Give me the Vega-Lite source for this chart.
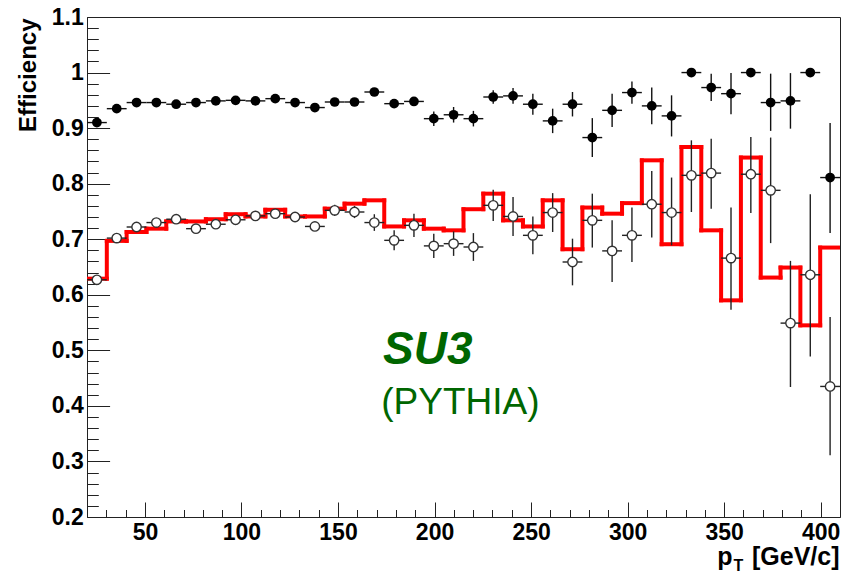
{
  "$schema": "https://vega.github.io/schema/vega-lite/v6.json",
  "width": 753,
  "height": 500,
  "autosize": {"type": "none"},
  "padding": {"left": 87, "top": 17, "right": 1, "bottom": 55},
  "background": "white",
  "config": {
    "view": {"stroke": "#222", "strokeWidth": 1},
    "axis": {
      "grid": false,
      "domain": false,
      "labelFont": "Liberation Sans",
      "labelFontWeight": "bold",
      "labelFontSize": 23,
      "labelColor": "black",
      "labelOverlap": false,
      "labelFlush": false,
      "titleFont": "Liberation Sans",
      "titleFontWeight": "bold",
      "titleFontSize": 24,
      "titleColor": "black",
      "tickColor": "#222",
      "tickWidth": 1
    }
  },
  "datasets": {
    "bins": [
      {"c": 25.13, "lo": 20, "hi": 30.26, "mc": 0.629, "o": 0.627, "olo": 0.621, "ohi": 0.633, "f": 0.910, "flo": 0.903, "fhi": 0.917},
      {"c": 35.39, "lo": 30.26, "hi": 40.53, "mc": 0.697, "o": 0.702, "olo": 0.696, "ohi": 0.708, "f": 0.935, "flo": 0.929, "fhi": 0.941},
      {"c": 45.66, "lo": 40.53, "hi": 50.79, "mc": 0.713, "o": 0.722, "olo": 0.716, "ohi": 0.728, "f": 0.946, "flo": 0.941, "fhi": 0.951},
      {"c": 55.92, "lo": 50.79, "hi": 61.05, "mc": 0.719, "o": 0.730, "olo": 0.724, "ohi": 0.736, "f": 0.946, "flo": 0.941, "fhi": 0.951},
      {"c": 66.18, "lo": 61.05, "hi": 71.32, "mc": 0.732, "o": 0.736, "olo": 0.730, "ohi": 0.742, "f": 0.943, "flo": 0.938, "fhi": 0.948},
      {"c": 76.45, "lo": 71.32, "hi": 81.58, "mc": 0.732, "o": 0.719, "olo": 0.713, "ohi": 0.725, "f": 0.946, "flo": 0.941, "fhi": 0.951},
      {"c": 86.71, "lo": 81.58, "hi": 91.84, "mc": 0.736, "o": 0.727, "olo": 0.720, "ohi": 0.734, "f": 0.949, "flo": 0.944, "fhi": 0.954},
      {"c": 96.97, "lo": 91.84, "hi": 102.11, "mc": 0.745, "o": 0.735, "olo": 0.728, "ohi": 0.742, "f": 0.950, "flo": 0.945, "fhi": 0.955},
      {"c": 107.24, "lo": 102.11, "hi": 112.37, "mc": 0.741, "o": 0.742, "olo": 0.735, "ohi": 0.749, "f": 0.949, "flo": 0.944, "fhi": 0.954},
      {"c": 117.50, "lo": 112.37, "hi": 122.63, "mc": 0.753, "o": 0.746, "olo": 0.739, "ohi": 0.753, "f": 0.953, "flo": 0.948, "fhi": 0.958},
      {"c": 127.76, "lo": 122.63, "hi": 132.89, "mc": 0.741, "o": 0.740, "olo": 0.733, "ohi": 0.747, "f": 0.946, "flo": 0.941, "fhi": 0.951},
      {"c": 138.03, "lo": 132.89, "hi": 143.16, "mc": 0.741, "o": 0.723, "olo": 0.716, "ohi": 0.730, "f": 0.937, "flo": 0.932, "fhi": 0.942},
      {"c": 148.29, "lo": 143.16, "hi": 153.42, "mc": 0.755, "o": 0.752, "olo": 0.742, "ohi": 0.762, "f": 0.947, "flo": 0.941, "fhi": 0.953},
      {"c": 158.55, "lo": 153.42, "hi": 163.68, "mc": 0.764, "o": 0.749, "olo": 0.738, "ohi": 0.760, "f": 0.947, "flo": 0.941, "fhi": 0.953},
      {"c": 168.82, "lo": 163.68, "hi": 173.95, "mc": 0.770, "o": 0.730, "olo": 0.715, "ohi": 0.745, "f": 0.965, "flo": 0.959, "fhi": 0.971},
      {"c": 179.08, "lo": 173.95, "hi": 184.21, "mc": 0.723, "o": 0.698, "olo": 0.680, "ohi": 0.716, "f": 0.944, "flo": 0.938, "fhi": 0.950},
      {"c": 189.34, "lo": 184.21, "hi": 194.47, "mc": 0.734, "o": 0.725, "olo": 0.704, "ohi": 0.746, "f": 0.948, "flo": 0.941, "fhi": 0.955},
      {"c": 199.61, "lo": 194.47, "hi": 204.74, "mc": 0.719, "o": 0.688, "olo": 0.666, "ohi": 0.710, "f": 0.917, "flo": 0.904, "fhi": 0.930},
      {"c": 209.87, "lo": 204.74, "hi": 215.00, "mc": 0.716, "o": 0.692, "olo": 0.670, "ohi": 0.714, "f": 0.924, "flo": 0.910, "fhi": 0.938},
      {"c": 220.13, "lo": 215.00, "hi": 225.26, "mc": 0.754, "o": 0.686, "olo": 0.661, "ohi": 0.711, "f": 0.917, "flo": 0.903, "fhi": 0.931},
      {"c": 230.39, "lo": 225.26, "hi": 235.53, "mc": 0.782, "o": 0.761, "olo": 0.733, "ohi": 0.789, "f": 0.956, "flo": 0.944, "fhi": 0.968},
      {"c": 240.66, "lo": 235.53, "hi": 245.79, "mc": 0.734, "o": 0.741, "olo": 0.706, "ohi": 0.776, "f": 0.958, "flo": 0.944, "fhi": 0.972},
      {"c": 250.92, "lo": 245.79, "hi": 256.05, "mc": 0.723, "o": 0.707, "olo": 0.673, "ohi": 0.741, "f": 0.943, "flo": 0.924, "fhi": 0.962},
      {"c": 261.18, "lo": 256.05, "hi": 266.32, "mc": 0.770, "o": 0.748, "olo": 0.713, "ohi": 0.783, "f": 0.913, "flo": 0.891, "fhi": 0.935},
      {"c": 271.45, "lo": 266.32, "hi": 276.58, "mc": 0.682, "o": 0.659, "olo": 0.617, "ohi": 0.701, "f": 0.943, "flo": 0.921, "fhi": 0.965},
      {"c": 281.71, "lo": 276.58, "hi": 286.84, "mc": 0.757, "o": 0.734, "olo": 0.685, "ohi": 0.782, "f": 0.883, "flo": 0.848, "fhi": 0.918},
      {"c": 291.97, "lo": 286.84, "hi": 297.11, "mc": 0.746, "o": 0.679, "olo": 0.623, "ohi": 0.734, "f": 0.932, "flo": 0.902, "fhi": 0.962},
      {"c": 302.24, "lo": 297.11, "hi": 307.37, "mc": 0.765, "o": 0.707, "olo": 0.659, "ohi": 0.757, "f": 0.964, "flo": 0.944, "fhi": 0.984},
      {"c": 312.50, "lo": 307.37, "hi": 317.63, "mc": 0.842, "o": 0.763, "olo": 0.703, "ohi": 0.823, "f": 0.940, "flo": 0.907, "fhi": 0.973},
      {"c": 322.76, "lo": 317.63, "hi": 327.89, "mc": 0.691, "o": 0.748, "olo": 0.689, "ohi": 0.811, "f": 0.922, "flo": 0.885, "fhi": 0.959},
      {"c": 333.03, "lo": 327.89, "hi": 338.16, "mc": 0.866, "o": 0.815, "olo": 0.749, "ohi": 0.878, "f": 1.0, "flo": 1.0, "fhi": 1.0},
      {"c": 343.29, "lo": 338.16, "hi": 348.42, "mc": 0.716, "o": 0.819, "olo": 0.755, "ohi": 0.881, "f": 0.973, "flo": 0.949, "fhi": 0.998},
      {"c": 353.55, "lo": 348.42, "hi": 358.68, "mc": 0.590, "o": 0.666, "olo": 0.573, "ohi": 0.757, "f": 0.962, "flo": 0.925, "fhi": 0.999},
      {"c": 363.82, "lo": 358.68, "hi": 368.95, "mc": 0.847, "o": 0.817, "olo": 0.747, "ohi": 0.884, "f": 1.0, "flo": 1.0, "fhi": 1.0},
      {"c": 374.08, "lo": 368.95, "hi": 379.21, "mc": 0.631, "o": 0.788, "olo": 0.693, "ohi": 0.883, "f": 0.946, "flo": 0.895, "fhi": 0.998},
      {"c": 384.34, "lo": 379.21, "hi": 389.47, "mc": 0.649, "o": 0.549, "olo": 0.434, "ohi": 0.661, "f": 0.949, "flo": 0.899, "fhi": 0.999},
      {"c": 394.61, "lo": 389.47, "hi": 399.74, "mc": 0.545, "o": 0.636, "olo": 0.489, "ohi": 0.781, "f": 1.0, "flo": 1.0, "fhi": 1.0},
      {"c": 404.87, "lo": 399.74, "hi": 410, "mc": 0.685, "o": 0.435, "olo": 0.311, "ohi": 0.560, "f": 0.811, "flo": 0.711, "fhi": 0.909}
    ]
  },
  "data": {"name": "bins"},
  "layer": [
    {
      "mark": {"type": "rule", "color": "#ff0000", "strokeWidth": 4, "strokeCap": "square", "clip": true},
      "encoding": {
        "x": {"field": "lo", "type": "quantitative", "scale": {"domain": [20, 410], "nice": false, "zero": false},
          "axis": {"orient": "bottom", "values": [50, 100, 150, 200, 250, 300, 350, 400], "tickSize": -15, "labelPadding": 37, "labelBaseline": "alphabetic", "title": "[GeV/c]", "titleFontSize": 25, "titleAlign": "right", "titleBaseline": "alphabetic", "titleX": 752, "titleY": 47}},
        "x2": {"field": "hi"},
        "y": {"field": "mc", "type": "quantitative", "scale": {"domain": [0.2, 1.1], "nice": false, "zero": false},
          "axis": {"orient": "left", "values": [0.2, 0.3, 0.4, 0.5, 0.6, 0.7, 0.8, 0.9, 1, 1.1], "format": "~g", "tickSize": -22.6, "labelPadding": 26.4, "labelAlign": "right", "labelBaseline": "middle", "title": "Efficiency", "titleAngle": 270, "titleAlign": "right", "titleBaseline": "alphabetic", "titleX": -52, "titleY": 1}}
      }
    },
    {
      "transform": [
        {"window": [{"op": "lead", "field": "mc", "as": "mc_next"}], "sort": [{"field": "lo", "order": "ascending"}]},
        {"filter": "isValid(datum.mc_next)"}
      ],
      "mark": {"type": "rule", "color": "#ff0000", "strokeWidth": 4, "strokeCap": "square", "clip": true},
      "encoding": {
        "x": {"field": "hi", "type": "quantitative", "scale": {"domain": [20, 410], "nice": false, "zero": false},
          "axis": {"orient": "bottom", "values": [20, 30, 40, 50, 60, 70, 80, 90, 100, 110, 120, 130, 140, 150, 160, 170, 180, 190, 200, 210, 220, 230, 240, 250, 260, 270, 280, 290, 300, 310, 320, 330, 340, 350, 360, 370, 380, 390, 400, 410], "tickSize": -7.5, "labels": false, "title": "p", "titleFontSize": 25, "titleAlign": "right", "titleBaseline": "alphabetic", "titleX": 645, "titleY": 47}},
        "y": {"field": "mc", "type": "quantitative", "scale": {"domain": [0.2, 1.1], "nice": false, "zero": false},
          "axis": {"orient": "left", "values": [0.2, 0.22, 0.24, 0.26, 0.28, 0.3, 0.32, 0.34, 0.36, 0.38, 0.4, 0.42, 0.44, 0.46, 0.48, 0.5, 0.52, 0.54, 0.56, 0.58, 0.6, 0.62, 0.64, 0.66, 0.68, 0.7, 0.72, 0.74, 0.76, 0.78, 0.8, 0.82, 0.84, 0.86, 0.88, 0.9, 0.92, 0.94, 0.96, 0.98, 1, 1.02, 1.04, 1.06, 1.08, 1.1], "tickSize": -11.3, "labels": false, "title": null}},
        "y2": {"field": "mc_next"}
      }
    },
    {
      "mark": {"type": "rule", "color": "#222", "strokeWidth": 1.4},
      "encoding": {
        "x": {"field": "c", "type": "quantitative", "scale": {"domain": [20, 410], "nice": false, "zero": false},
          "axis": {"orient": "bottom", "ticks": false, "labels": false, "title": "T", "titleFontSize": 16, "titleAlign": "left", "titleBaseline": "alphabetic", "titleX": 646, "titleY": 53}},
        "y": {"field": "olo", "type": "quantitative", "axis": null},
        "y2": {"field": "ohi"}
      }
    },
    {
      "mark": {"type": "rule", "color": "#222", "strokeWidth": 1.4},
      "encoding": {
        "x": {"field": "lo", "type": "quantitative", "axis": null},
        "x2": {"field": "hi"},
        "y": {"field": "o", "type": "quantitative", "axis": null}
      }
    },
    {
      "mark": {"type": "rule", "color": "#111", "strokeWidth": 1.4},
      "encoding": {
        "x": {"field": "c", "type": "quantitative", "axis": null},
        "y": {"field": "flo", "type": "quantitative", "axis": null},
        "y2": {"field": "fhi"}
      }
    },
    {
      "mark": {"type": "rule", "color": "#111", "strokeWidth": 1.4},
      "encoding": {
        "x": {"field": "lo", "type": "quantitative", "axis": null},
        "x2": {"field": "hi"},
        "y": {"field": "f", "type": "quantitative", "axis": null}
      }
    },
    {
      "mark": {"type": "point", "shape": "circle", "filled": true, "fill": "white", "stroke": "#333", "strokeWidth": 1.4, "size": 88, "opacity": 1},
      "encoding": {
        "x": {"field": "c", "type": "quantitative", "axis": null},
        "y": {"field": "o", "type": "quantitative", "axis": null}
      }
    },
    {
      "mark": {"type": "point", "shape": "circle", "filled": true, "color": "black", "size": 95, "opacity": 1},
      "encoding": {
        "x": {"field": "c", "type": "quantitative", "axis": null},
        "y": {"field": "f", "type": "quantitative", "axis": null}
      }
    },
    {
      "data": {"values": [{"t": "SU3"}]},
      "mark": {"type": "text", "font": "Liberation Sans", "fontWeight": "bold", "fontStyle": "italic", "fontSize": 46, "color": "#006600", "align": "left", "baseline": "alphabetic"},
      "encoding": {
        "x": {"datum": 173.3, "type": "quantitative", "axis": null},
        "y": {"datum": 0.476, "type": "quantitative", "axis": null},
        "text": {"field": "t"}
      }
    },
    {
      "data": {"values": [{"t": "(PYTHIA)"}]},
      "mark": {"type": "text", "font": "Liberation Sans", "fontSize": 37, "color": "#006600", "align": "left", "baseline": "alphabetic"},
      "encoding": {
        "x": {"datum": 172.4, "type": "quantitative", "axis": null},
        "y": {"datum": 0.386, "type": "quantitative", "axis": null},
        "text": {"field": "t"}
      }
    }
  ],
  "resolve": {"axis": {"x": "independent", "y": "independent"}}
}
